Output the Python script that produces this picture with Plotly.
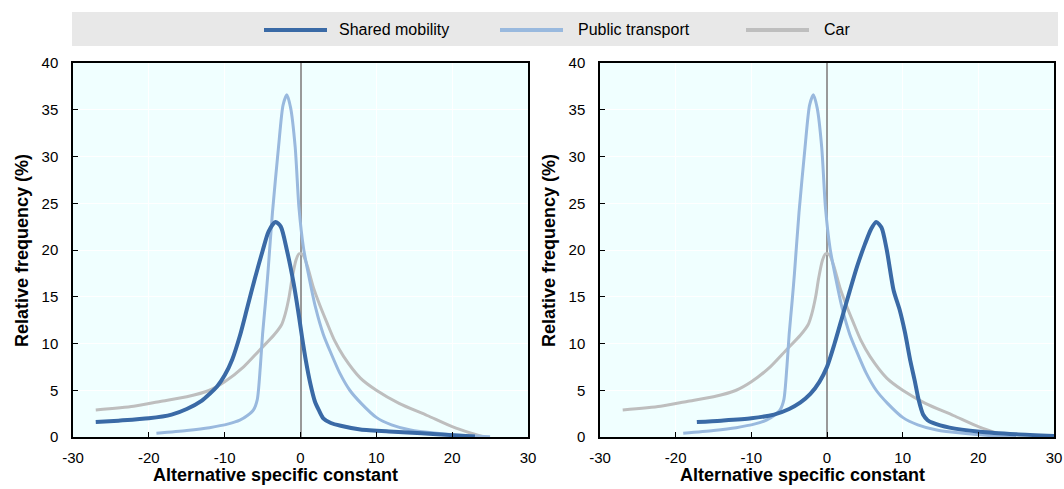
import plotly.graph_objects as go

# ---------------- data ----------------
x_tick_vals = [-30, -20, -10, 0, 10, 20, 30]
x_tick_text = ["-30", "-20", "-10", "0", "10", "20", "30"]
y_tick_vals = [0, 5, 10, 15, 20, 25, 30, 35, 40]

series_names = ["Shared mobility", "Public transport", "Car"]

# Left panel – shared mobility
sm_left_x = [-27, -24, -20, -17, -15, -13, -12, -11, -10, -9, -8, -7, -6, -5, -4.2, -3.3,
             -2.6, -1.8, -0.9, -0.2, 0.2, 0.7, 1.3, 1.9, 2.4, 3.0, 4.0, 5.3, 7.9, 12.3, 16, 20, 23]
sm_left_y = [1.6, 1.75, 2.0, 2.4, 3.0, 3.9, 4.6, 5.4, 6.6, 8.3, 10.8, 13.9, 17.0, 19.9, 22.0, 23.0,
             22.5, 20.0, 16.4, 12.9, 10.7, 8.2, 5.7, 3.8, 2.9, 2.0, 1.5, 1.2, 0.8, 0.57, 0.4, 0.2, 0.05]

# Right panel – shared mobility
sm_right_x = [-17.2, -14, -10, -7, -5, -3.5, -2.2, -1, 0, 1, 2, 3, 4, 5, 5.8, 6.5,
              7.2, 7.9, 8.8, 9.6, 10.3, 11.0, 11.6, 12.1, 12.7, 13.3, 14.0, 16.2, 20.2, 25, 30]
sm_right_y = [1.6, 1.75, 2.0, 2.4, 3.0, 3.7, 4.6, 5.9, 7.5, 10.0, 12.8, 15.6, 18.3, 20.6, 22.2, 23.0,
              22.4, 20.0, 15.7, 13.6, 11.2, 8.2, 6.0, 4.0, 2.4, 1.8, 1.5, 1.0, 0.57, 0.3, 0.12]

# Public transport (same in both panels)
pt_x = [-19, -15, -12, -9.5, -8, -7, -6.2, -5.7, -5.3, -5.0, -4.6, -4.3, -3.7, -2.9, -2.3, -1.8,
        -1.3, -0.7, -0.2, 0.4, 1.1, 2.0, 3.0, 4.0, 5.2, 6.5, 8, 10, 12, 14.5, 18, 21, 25]
pt_y = [0.4, 0.7, 1.0, 1.4, 1.8, 2.3, 2.9, 4.0, 7.5, 11.0, 14.6, 17.5, 24.0, 31.0, 35.5, 36.6,
        35.2, 31.0, 24.5, 20.2, 17.2, 13.8, 11.0, 9.0, 6.8, 5.0, 3.6, 2.1, 1.3, 0.75, 0.4, 0.2, 0.03]

# Car (same in both panels)
car_x = [-27, -22, -18.5, -15, -12, -10, -7.5, -5.5, -3.5, -2.5, -2.0, -1.5, -1.1, -0.6, -0.2,
         0.3, 0.9, 1.7, 2.5, 3.5, 4.5, 5.7, 7.9, 10, 13, 16.7, 20, 22.5, 24]
car_y = [2.9, 3.3, 3.8, 4.3, 5.0, 5.9, 7.5, 9.2, 10.9, 12.0, 13.2, 15.0, 17.0, 18.9, 19.6,
         19.5, 18.3, 16.0, 14.2, 12.2, 10.3, 8.6, 6.3, 5.0, 3.6, 2.3, 1.1, 0.4, 0.05]

colors = {"Shared mobility": "#3A6AA6", "Public transport": "#99B9DE", "Car": "#BEBEBE"}
widths = {"Shared mobility": 4, "Public transport": 3, "Car": 3}

# ---------------- layout helpers ----------------
W, H = 1064, 489
FONT = "Liberation Sans, Arial, sans-serif"


def fx(p):
    return p / W


def fy(p):
    return 1 - p / H


fig = go.Figure()

panels = [
    ("x", "y", sm_left_x, sm_left_y),
    ("x2", "y2", sm_right_x, sm_right_y),
]

for xa, ya, smx, smy in panels:
    for name, xs, ys in [("Car", car_x, car_y),
                         ("Public transport", pt_x, pt_y),
                         ("Shared mobility", smx, smy)]:
        fig.add_trace(go.Scatter(
            x=xs, y=ys, mode="lines", name=name, showlegend=False,
            line=dict(color=colors[name], width=widths[name], shape="spline", smoothing=0.7),
            xaxis=xa, yaxis=ya, hoverinfo="skip",
        ))

axis_common = dict(
    showline=True, linecolor="black", linewidth=1.5, mirror=True,
    ticks="inside", ticklen=5, tickcolor="black", tickwidth=1,
    showgrid=True, gridcolor="white", gridwidth=1,
    tickfont=dict(family=FONT, size=15, color="black"),
    automargin=False,
)

x_dom_left = [fx(73), fx(528)]
x_dom_right = [fx(600), fx(1054)]
y_dom = [fy(437), fy(63)]

fig.update_layout(
    width=W, height=H,
    margin=dict(l=0, r=0, t=0, b=0, autoexpand=False),
    paper_bgcolor="white",
    plot_bgcolor="#F0FFFF",
    showlegend=False,
    font=dict(family=FONT, size=16, color="black"),
    xaxis=dict(domain=x_dom_left, range=[-30, 30], tickvals=x_tick_vals, ticktext=x_tick_text,
               zeroline=True, zerolinecolor="#999999", zerolinewidth=2,
               anchor="y", ticklabelstandoff=6, **axis_common),
    yaxis=dict(domain=y_dom, range=[0, 40], tickvals=y_tick_vals, zeroline=False,
               anchor="x", ticklabelstandoff=10, **axis_common),
    xaxis2=dict(domain=x_dom_right, range=[-30, 30], tickvals=x_tick_vals, ticktext=x_tick_text,
                zeroline=True, zerolinecolor="#999999", zerolinewidth=2,
                anchor="y2", ticklabelstandoff=6, **axis_common),
    yaxis2=dict(domain=y_dom, range=[0, 40], tickvals=y_tick_vals, zeroline=False,
                anchor="x2", ticklabelstandoff=10, **axis_common),
)

# legend band
shapes = [dict(type="rect", xref="paper", yref="paper",
               x0=fx(72), x1=fx(1058), y0=fy(46), y1=fy(12),
               fillcolor="#E8E8E8", line=dict(width=0), layer="below")]
annotations = []
legend_pos = [(264, 337), (500, 576), (746, 822)]
for name, (lx, tx) in zip(series_names, legend_pos):
    shapes.append(dict(type="line", xref="paper", yref="paper",
                       x0=fx(lx), x1=fx(lx + 63), y0=fy(30), y1=fy(30),
                       line=dict(color=colors[name], width=4)))
    annotations.append(dict(text=name, xref="paper", yref="paper",
                            x=fx(tx), y=fy(30), xanchor="left", yanchor="middle",
                            showarrow=False, font=dict(family=FONT, size=16, color="black")))

# axis titles
for cx in (275, 802):
    annotations.append(dict(text="<b>Alternative specific constant</b>", xref="paper", yref="paper",
                            x=fx(cx), y=fy(487), xanchor="center", yanchor="bottom",
                            showarrow=False, font=dict(family=FONT, size=18, color="black")))
for cx in (22, 549):
    annotations.append(dict(text="<b>Relative frequency (%)</b>", xref="paper", yref="paper",
                            x=fx(cx), y=fy(251), xanchor="center", yanchor="middle",
                            textangle=-90, showarrow=False,
                            font=dict(family=FONT, size=18, color="black")))

fig.update_layout(shapes=shapes, annotations=annotations)

fig.write_html("out.html")
